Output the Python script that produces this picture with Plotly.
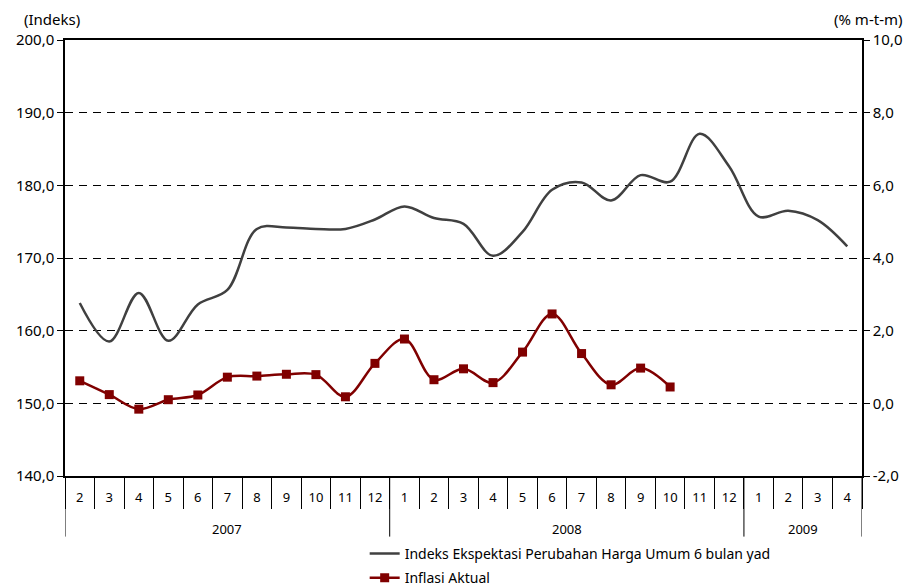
import plotly.graph_objects as go

# ---- data ----
years = ["2007", "2007", "2007", "2007", "2007", "2007", "2007", "2007", "2007", "2007", "2007",
         "2008", "2008", "2008", "2008", "2008", "2008", "2008", "2008", "2008", "2008", "2008", "2008",
         "2009", "2009", "2009", "2009"]
months = ["2", "3", "4", "5", "6", "7", "8", "9", "10", "11", "12",
          "1", "2", "3", "4", "5", "6", "7", "8", "9", "10", "11", "12",
          "1", "2", "3", "4"]

ekspektasi = [163.8, 158.5, 165.2, 158.6, 163.6, 165.6, 174.0, 174.2, 174.0, 174.0, 175.3,
              177.1, 175.5, 174.7, 170.3, 173.6, 179.4, 180.4, 177.9, 181.4, 180.5, 187.1, 182.6,
              175.7, 176.5, 175.2, 171.6]

inflasi = [0.62, 0.24, -0.16, 0.10, 0.23, 0.72, 0.75, 0.80, 0.79, 0.18, 1.10,
           1.77, 0.65, 0.95, 0.57, 1.41, 2.46, 1.37, 0.51, 0.97, 0.45]

left_ticks = [140, 150, 160, 170, 180, 190, 200]
left_text = ["140,0", "150,0", "160,0", "170,0", "180,0", "190,0", "200,0"]
right_ticks = [-2, 0, 2, 4, 6, 8, 10]
right_text = ["-2,0", "0,0", "2,0", "4,0", "6,0", "8,0", "10,0"]

name1 = "Indeks Ekspektasi Perubahan Harga Umum 6 bulan yad"
name2 = "Inflasi Aktual"

FONT = "Noto Sans"

# unique category keys, one per month
keys = [y + "-" + m for y, m in zip(years, months)]

fig = go.Figure()
fig.add_trace(go.Scatter(
    x=keys, y=ekspektasi, name=name1, mode="lines", legendgroup="a",
    line=dict(color="#404040", width=2.5, shape="spline", smoothing=1.0),
    yaxis="y"))
fig.add_trace(go.Scatter(
    x=keys[:len(inflasi)], y=inflasi, name=name2, legendgroup="b",
    mode="lines+markers",
    line=dict(color="#800000", width=2.5, shape="spline", smoothing=1.0),
    marker=dict(symbol="square", size=9, color="#800000"),
    yaxis="y2"))

# year groups: label centred over the group, dividers at group edges
shapes = []
annotations = []
group_years = []
for y in years:
    if y not in group_years:
        group_years.append(y)
for gy in group_years:
    idx = [i for i, y in enumerate(years) if y == gy]
    annotations.append(dict(
        text=gy, xref="x", yref="paper", x=(idx[0] + idx[-1]) / 2, y=-0.122,
        xanchor="center", yanchor="middle", showarrow=False,
        font=dict(size=13, family=FONT)))
    shapes.append(dict(type="line", xref="x", yref="paper",
                       x0=idx[0] - 0.5, x1=idx[0] - 0.5, y0=0, y1=-0.139,
                       line=dict(color="black", width=1)))
shapes.append(dict(type="line", xref="x", yref="paper",
                   x0=len(years) - 0.5, x1=len(years) - 0.5, y0=0, y1=-0.139,
                   line=dict(color="black", width=1)))

annotations += [
    dict(text="(Indeks)", xref="paper", yref="paper", x=-0.054, y=1.0,
         xanchor="left", yanchor="bottom", yshift=9, showarrow=False,
         font=dict(size=15, family=FONT)),
    dict(text="(% m-t-m)", xref="paper", yref="paper", x=1.054, y=1.0,
         xanchor="right", yanchor="bottom", yshift=9, showarrow=False,
         font=dict(size=15, family=FONT)),
]

# page body adds an 8px offset, so the figure is 8px smaller than the window
fig.update_layout(
    width=909, height=579,
    margin=dict(l=57, r=55, t=32, b=111, autoexpand=False),
    paper_bgcolor="white", plot_bgcolor="white",
    font=dict(family=FONT, size=14, color="#000000"),
    showlegend=True,
    legend=dict(x=0.376, y=-0.142, xanchor="left", yanchor="top",
                bgcolor="rgba(0,0,0,0)", font=dict(size=14, family=FONT),
                tracegroupgap=3, itemwidth=30),
    xaxis=dict(
        type="category", categoryorder="array", categoryarray=keys,
        tickvals=keys, ticktext=months,
        showline=True, linecolor="black", linewidth=1.5,
        mirror=True, ticks="outside", tickson="boundaries", ticklen=31,
        tickcolor="black", tickwidth=1, showgrid=False,
        ticklabelstandoff=9,
        tickfont=dict(size=13, family=FONT),
        range=[-0.5, len(keys) - 0.5],
    ),
    yaxis=dict(
        range=[140, 200], tickvals=left_ticks, ticktext=left_text,
        showline=True, linecolor="black", linewidth=1.5,
        ticks="outside", ticklen=6, tickcolor="black",
        showgrid=True, gridcolor="black", gridwidth=1, griddash="8px,6px",
        zeroline=False, tickfont=dict(size=15, family=FONT),
    ),
    yaxis2=dict(
        range=[-2, 10], tickvals=right_ticks, ticktext=right_text,
        overlaying="y", side="right",
        showline=True, linecolor="black", linewidth=1.5,
        ticks="outside", ticklen=6, tickcolor="black",
        showgrid=False, zeroline=False, tickfont=dict(size=15, family=FONT),
    ),
    shapes=shapes,
    annotations=annotations,
)

fig.write_html("out.html")
